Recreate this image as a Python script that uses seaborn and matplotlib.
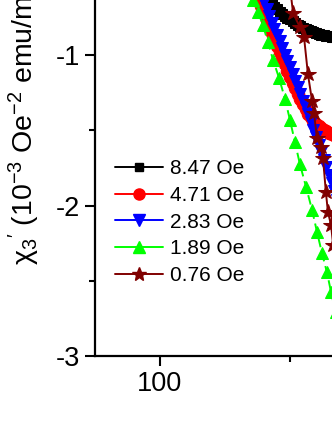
import numpy as np
import matplotlib
matplotlib.use("Agg")
import matplotlib.pyplot as plt
from matplotlib.lines import Line2D
from matplotlib.ticker import FixedLocator
import seaborn as sns

# field labels and colours (legend order)
fields = ["8.47 Oe", "4.71 Oe", "2.83 Oe", "1.89 Oe", "0.76 Oe"]

# 8.47 Oe
t_847 = [140, 141, 142, 143, 144, 145, 146, 147, 148, 149, 150, 151, 152, 153, 154,
         155, 156, 157, 158, 159, 160, 161, 162, 163, 164, 165, 166, 167, 168]
chi_847 = [-0.59, -0.615, -0.638, -0.66, -0.68, -0.697, -0.712, -0.726, -0.74, -0.752,
           -0.763, -0.775, -0.787, -0.798, -0.808, -0.818, -0.827, -0.835, -0.843, -0.85,
           -0.856, -0.861, -0.865, -0.869, -0.872, -0.875, -0.877, -0.879, -0.88]

# 4.71 Oe
t_471 = [137, 138, 139, 140, 141, 142, 143, 144, 145, 146, 147, 148, 149, 150, 151, 152,
         153, 154, 155, 156, 157, 158, 159, 160, 161, 162, 163, 164, 165, 166, 167, 168]
chi_471 = [-0.585, -0.63, -0.675, -0.72, -0.765, -0.81, -0.855, -0.897, -0.94, -0.98,
           -1.022, -1.062, -1.105, -1.145, -1.183, -1.222, -1.26, -1.295, -1.328, -1.36,
           -1.389, -1.414, -1.437, -1.457, -1.472, -1.486, -1.498, -1.508, -1.517, -1.525,
           -1.532, -1.538]

# 2.83 Oe
t_283 = [137, 138, 139, 140, 141, 142, 143, 144, 145, 146, 147, 148, 149, 150, 151, 152,
         153, 154, 155, 156, 157, 158, 159, 160, 161, 162, 163, 164, 165, 166, 167, 168]
chi_283 = [-0.52, -0.565, -0.61, -0.65, -0.695, -0.74, -0.785, -0.83, -0.87, -0.91,
           -0.955, -1.0, -1.04, -1.08, -1.125, -1.17, -1.215, -1.26, -1.305, -1.35,
           -1.395, -1.445, -1.495, -1.545, -1.595, -1.645, -1.695, -1.745, -1.795, -1.85,
           -1.905, -1.96]

# 1.89 Oe
t_189 = [132.0, 134.0, 135.8, 137.7, 139.6, 141.5, 143.5, 145.8, 148.1, 150.0, 151.9,
         153.8, 156.2, 158.5, 160.4, 162.3, 164.2, 165.8, 167.6]
chi_189 = [-0.49, -0.56, -0.635, -0.714, -0.801, -0.914, -1.033, -1.153, -1.292, -1.432,
           -1.578, -1.724, -1.877, -2.03, -2.176, -2.316, -2.442, -2.575, -2.71]

# 0.76 Oe
t_076 = [150.0, 151.2, 153.8, 155.4, 156.9, 158.5, 159.2, 160.4, 161.9, 162.7, 163.8,
         164.6, 165.8, 166.6]
chi_076 = [-0.55, -0.721, -0.814, -0.88, -1.126, -1.306, -1.385, -1.551, -1.611, -1.684,
           -1.91, -2.043, -2.13, -2.26]

sns.set_style("ticks")
plt.rcParams["font.family"] = ["Liberation Sans", "DejaVu Sans"]
plt.rcParams["mathtext.fontset"] = "custom"
plt.rcParams["mathtext.rm"] = "Liberation Sans"
plt.rcParams["mathtext.it"] = "Liberation Sans:italic"
plt.rcParams["mathtext.default"] = "regular"
plt.rcParams["axes.unicode_minus"] = False
for key in ["text.color", "axes.labelcolor", "xtick.color", "ytick.color", "axes.edgecolor"]:
    plt.rcParams[key] = "black"

fig = plt.figure(figsize=(3.32, 4.30), dpi=100)
# axes run off the top and right edge (cropped view)
ax = fig.add_axes([0.2861, 0.172, 1.762, 0.875])

series = [
    (t_847, chi_847, "black", "s", 7.5, "-"),
    (t_471, chi_471, "red", "o", 9, "-"),
    (t_283, chi_283, "blue", "v", 8.5, "-"),
    (t_189, chi_189, "#00ff00", "^", 9, (0, (5, 2.5))),
    (t_076, chi_076, "#800000", "*", 11.5, "-"),
]
legend_ms = [6, 8, 8, 8.5, 10]

handles = []
for (t, chi, col, mk, ms, ls), name, lms in zip(series, fields, legend_ms):
    sns.lineplot(x=t, y=chi, ax=ax, color=col, marker=mk, markersize=ms,
                 markeredgecolor=col, linestyle=ls, linewidth=1.4, sort=False)
    handles.append(Line2D([], [], color=col, marker=mk, markersize=lms,
                          markeredgecolor=col, linestyle="-", linewidth=1.4, label=name))

ax.set_xlim(75, 300)
ax.set_ylim(-3, -0.5)
ax.xaxis.set_major_locator(FixedLocator([100]))
ax.xaxis.set_minor_locator(FixedLocator([50, 150]))
ax.yaxis.set_major_locator(FixedLocator([-3, -2, -1]))
ax.yaxis.set_minor_locator(FixedLocator([-2.5, -1.5, -0.5]))
ax.tick_params(which="major", direction="out", length=7, width=1.5, labelsize=19.5, pad=4)
ax.tick_params(which="minor", direction="out", length=4, width=1.5)
for sp in ax.spines.values():
    sp.set_linewidth(1.6)
ax.set_xlabel("")
ax.set_ylabel("")

fig.text(0.072, 0.384, "χ$_3$$^{\\prime}$ (10$^{-3}$ Oe$^{-2}$ emu/mol Oe)",
         rotation=90, ha="center", va="bottom", fontsize=20.5)

fig.legend(handles=handles, loc="upper left", bbox_to_anchor=(0.346, 0.630),
           bbox_transform=fig.transFigure, frameon=False, fontsize=15,
           handlelength=2.3, handletextpad=0.34, labelspacing=0.37,
           borderaxespad=0, borderpad=0)

fig.savefig("out.png", dpi=100)
